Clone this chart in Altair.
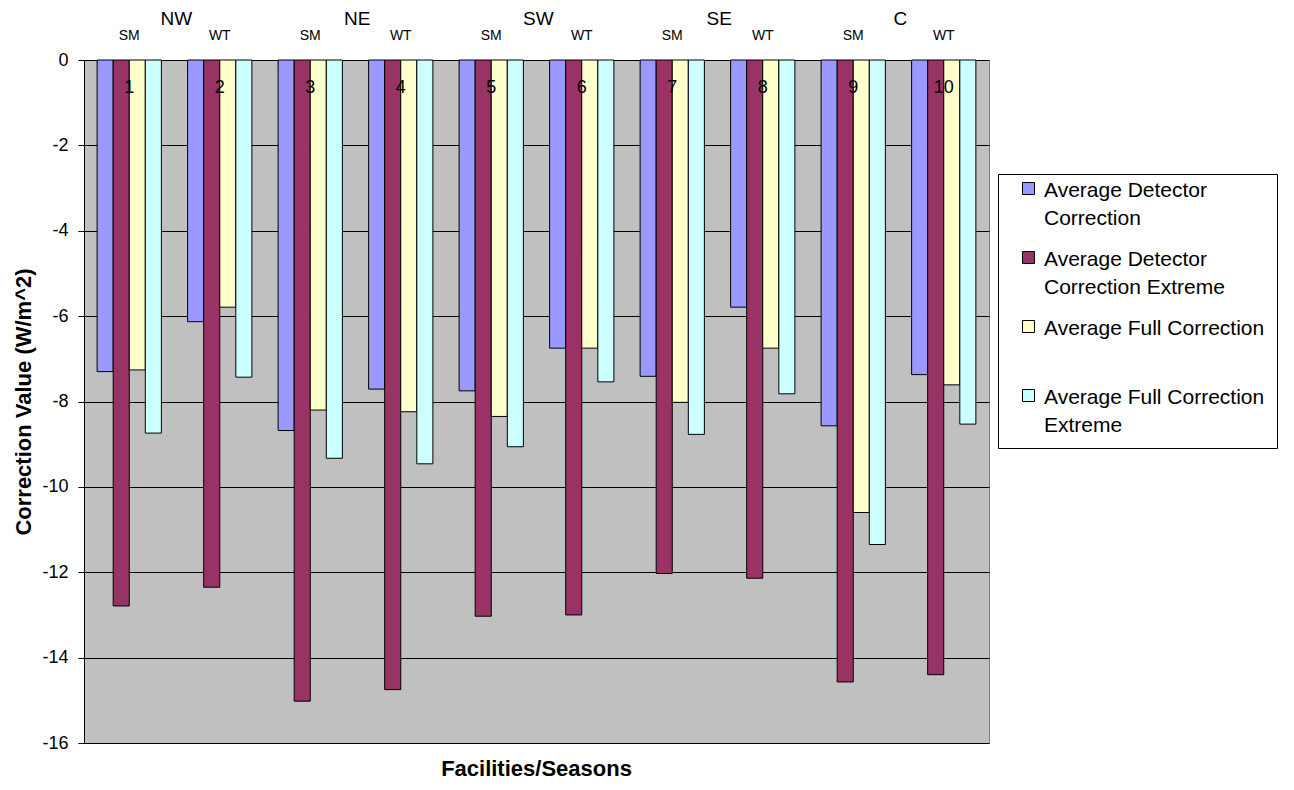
import altair as alt
import pandas as pd

# ---------------- data ----------------
categories = [str(i) for i in range(1, 11)]
seasons = ["SM", "WT", "SM", "WT", "SM", "WT", "SM", "WT", "SM", "WT"]
regions = ["NW", "NE", "SW", "SE", "C"]
region_cats = ["1", "3", "5", "7", "9"]

series_names = [
    "Average Detector Correction",
    "Average Detector Correction Extreme",
    "Average Full Correction",
    "Average Full Correction Extreme",
]
avg_detector = [-7.30, -6.13, -8.68, -7.71, -7.75, -6.75, -7.41, -5.79, -8.57, -7.37]
avg_detector_extreme = [-12.79, -12.35, -15.02, -14.75, -13.03, -13.00, -12.03, -12.14, -14.57, -14.40]
avg_full = [-7.26, -5.79, -8.20, -8.24, -8.35, -6.75, -8.02, -6.75, -10.60, -7.61]
avg_full_extreme = [-8.74, -7.43, -9.33, -9.46, -9.06, -7.54, -8.77, -7.82, -11.35, -8.53]
colors = ["#9999FF", "#993366", "#FFFFCC", "#CCFFFF"]

legend_lines = {
    "Average Detector Correction": ["Average Detector", "Correction"],
    "Average Detector Correction Extreme": ["Average Detector", "Correction Extreme"],
    "Average Full Correction": ["Average Full Correction", " "],
    "Average Full Correction Extreme": ["Average Full Correction", "Extreme"],
}

y_ticks = [0, -2, -4, -6, -8, -10, -12, -14, -16]

# ---------------- tables ----------------
rows = []
for name, vals in zip(series_names, [avg_detector, avg_detector_extreme, avg_full, avg_full_extreme]):
    for c, v in zip(categories, vals):
        rows.append({"cat": c, "series": name, "value": v})
bars_df = pd.DataFrame(rows)
cat_df = pd.DataFrame({"cat": categories, "season": seasons})
reg_df = pd.DataFrame({"cat": region_cats, "region": regions})

FONT = "Liberation Sans"

label_expr = ""
for k, lines in legend_lines.items():
    arr = "[" + ",".join("'" + s + "'" for s in lines) + "]"
    label_expr += f"datum.label == '{k}' ? {arr} : "
label_expr += "datum.label"

x_enc = alt.X(
    "cat:N",
    sort=categories,
    scale=alt.Scale(paddingInner=0.29, paddingOuter=0.145),
    axis=alt.Axis(
        orient="top", title=None, labels=False, domain=False,
        ticks=True, tickSize=5, tickColor="black", bandPosition=0, offset=-5,
        grid=False,
    ),
)

bars = alt.Chart(bars_df).mark_bar(stroke="black", strokeWidth=1).encode(
    x=x_enc,
    xOffset=alt.XOffset("series:N", sort=series_names,
                        scale=alt.Scale(paddingInner=0, paddingOuter=0)),
    y=alt.Y(
        "value:Q",
        scale=alt.Scale(domain=[-16, 0], nice=False, zero=True),
        axis=alt.Axis(
            values=y_ticks, title="Correction Value (W/m^2)",
            labelExpr="toString(datum.value)",
            titleFont=FONT, titleFontSize=22, titleFontWeight="bold", titleColor="black",
            titlePadding=6,
            labelFont=FONT, labelFontSize=18, labelColor="black", labelPadding=10,
            tickSize=6, tickColor="black", domainColor="black",
            grid=True, gridColor="black", gridWidth=1, gridOpacity=1,
        ),
    ),
    color=alt.Color(
        "series:N", sort=series_names,
        scale=alt.Scale(domain=series_names, range=colors),
        legend=alt.Legend(
            title=None, orient="none", legendX=914, legendY=114,
            fillColor="white", strokeColor="black", padding=12,
            symbolType="M-1,-2.33H1V-0.33H-1Z", symbolSize=144,
            symbolStrokeColor="black", symbolStrokeWidth=1, symbolOffset=8,
            labelFont=FONT, labelFontSize=21, labelColor="black",
            labelLimit=400, labelBaseline="alphabetic",
            labelOffset=5, rowPadding=19, labelExpr=label_expr,
        ),
    ),
)

num_text = alt.Chart(cat_df).mark_text(
    dy=28, fontSize=18, font=FONT, color="black", baseline="middle"
).encode(x=alt.X("cat:N", sort=categories), y=alt.datum(0), text="cat:N")

season_text = alt.Chart(cat_df).mark_text(
    dy=-24, fontSize=14, font=FONT, color="black", baseline="middle"
).encode(x=alt.X("cat:N", sort=categories), y=alt.datum(0), text="season:N")

region_text = alt.Chart(reg_df).mark_text(
    dy=-41, dx=47, fontSize=19, font=FONT, color="black", baseline="middle"
).encode(x=alt.X("cat:N", sort=categories), y=alt.datum(0), text="region:N")

chart = alt.layer(bars, num_text, season_text, region_text).properties(
    width=905, height=683,
    autosize=alt.AutoSizeParams(type="none"),
    padding={"left": 76, "top": 52, "right": 297, "bottom": 39},
    title=alt.TitleParams(
        "Facilities/Seasons", orient="bottom", anchor="middle",
        font=FONT, fontSize=22, fontWeight="bold", color="black", offset=7,
    ),
).configure(
    background="white",
    style={"guide-label": {"lineHeight": 28}},
).configure_view(
    fill="#C0C0C0", stroke="#808080", strokeWidth=1
)

chart.save("out.html", embed_options={"renderer": "svg", "actions": False})
